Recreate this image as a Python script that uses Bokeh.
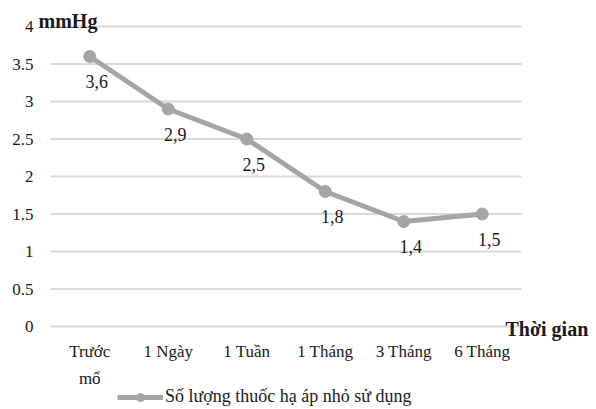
from bokeh.plotting import figure
from bokeh.models import Legend, LegendItem, ColumnDataSource, Range1d, Label
from bokeh.embed import file_html
from bokeh.resources import INLINE
from bokeh.core.properties import value

categories = ["Trước\nmổ", "1 Ngày", "1 Tuần", "1 Tháng", "3 Tháng", "6 Tháng"]
values = [3.6, 2.9, 2.5, 1.8, 1.4, 1.5]
value_labels = ["3,6", "2,9", "2,5", "1,8", "1,4", "1,5"]
y_ticks = [0, 0.5, 1, 1.5, 2, 2.5, 3, 3.5, 4]
y_tick_labels = ["0", "0.5", "1", "1.5", "2", "2.5", "3", "3.5", "4"]
series_name = "Số lượng thuốc hạ áp nhỏ sử dụng"
y_unit = "mmHg"
x_title = "Thời gian"

FONT = "Liberation Serif"
GREY = "#a5a5a5"
TXT = "#1a1a1a"

# layout: category band 0..6 spans px 50..521, value 0..4 spans px 326..26
W, H = 596, 409
PX_X = 78.5
PX_Y = 75.0
x0 = -50 / PX_X
y_top = 4 + 26 / PX_Y

xs = [i + 0.5 for i in range(len(categories))]
src = ColumnDataSource(dict(x=xs, y=values, lab=value_labels, cat=categories))
ysrc = ColumnDataSource(dict(y=y_ticks, lab=y_tick_labels))

p = figure(width=W, height=H, output_backend="svg", toolbar_location=None,
           x_range=Range1d(x0, x0 + W / PX_X), y_range=Range1d(y_top - H / PX_Y, y_top),
           min_border=0, min_border_left=0, min_border_right=0,
           min_border_top=0, min_border_bottom=0)
p.outline_line_color = None
p.background_fill_color = "white"
p.border_fill_color = "white"
p.xaxis.visible = False
p.yaxis.visible = False
p.grid.visible = False

# value gridlines and their labels
p.segment(x0=0, x1=len(categories), y0="y", y1="y", source=ysrc,
          line_color="#d9d9d9", line_width=2)
p.text(x=0, y="y", text="lab", source=ysrc, x_offset=-17,
       text_align="right", text_baseline="middle",
       text_font=value(FONT), text_font_size="17px", text_color=TXT)

# category labels
p.text(x="x", y=0, text="cat", source=src, y_offset=15,
       text_align="center", text_baseline="top", text_line_height=1.45,
       text_font=value(FONT), text_font_size="17px", text_color=TXT)

line = p.line("x", "y", source=src, line_color=GREY, line_width=5)
pts = p.scatter("x", "y", source=src, size=12, fill_color=GREY, line_color=GREY)

p.text("x", "y", text="lab", source=src, x_offset=7, y_offset=25,
       text_align="center", text_baseline="middle",
       text_font=value(FONT), text_font_size="18px", text_color=TXT)

p.add_layout(Label(x=-12 / PX_X, y=4 + 6 / PX_Y, text=y_unit, text_font=FONT,
                   text_font_style="bold", text_font_size="20px",
                   text_baseline="middle", text_color=TXT))
p.add_layout(Label(x=len(categories) - 16 / PX_X, y=-2 / PX_Y, text=x_title, text_font=FONT,
                   text_font_style="bold", text_font_size="20px",
                   text_baseline="middle", text_color=TXT))

legend = Legend(items=[LegendItem(label=series_name, renderers=[line, pts])],
                location=(117, 2), orientation="horizontal",
                border_line_color=None, background_fill_alpha=0,
                padding=0, margin=0, glyph_width=46, glyph_height=20, label_standoff=2,
                label_text_font=FONT, label_text_font_size="18px", label_text_color=TXT)
p.add_layout(legend, "center")

open("out.html", "w").write(file_html(p, INLINE))
